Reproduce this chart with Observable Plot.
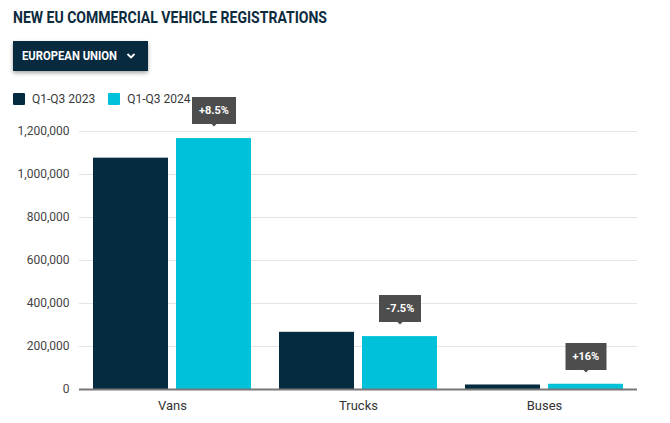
<!DOCTYPE html>
<html><head><meta charset="utf-8">
<script src="https://cdn.jsdelivr.net/npm/d3@7"></script>
<script src="https://cdn.jsdelivr.net/npm/@observablehq/plot@0.6"></script>
<style>
html,body{margin:0;padding:0;background:#fff;width:670px;height:423px;overflow:hidden;font-family:Roboto,"Noto Sans",sans-serif;}
#wrap{position:relative;width:670px;height:423px;}
#title{position:absolute;left:13px;top:7px;font-size:17px;font-weight:700;color:#0d2b3e;white-space:nowrap;transform-origin:0 0;letter-spacing:0px;}
#btn{position:absolute;left:13px;top:41px;width:135px;height:30px;background:#072a3e;box-shadow:0 2px 4px rgba(0,0,0,0.35);color:#fff;font-weight:700;font-size:12px;}
#btn span.t{position:absolute;left:9px;top:8px;white-space:nowrap;transform-origin:0 0;}
#btn svg{position:absolute;left:113px;top:11px;}
#legend{position:absolute;left:13px;top:92px;font-size:12px;color:#3a3a3a;display:flex;align-items:center;}
#legend .sw{width:12px;height:12px;display:inline-block;margin-right:7px;border-radius:1px;}
#legend .it{display:flex;align-items:center;margin-right:13px;}
#chart{position:absolute;left:0;top:85px;}
.tipmark text{fill:#fff !important;font-weight:700;}
</style></head>
<body><div id="wrap">
<div id="title">NEW EU COMMERCIAL VEHICLE REGISTRATIONS</div>
<div id="btn"><span class="t">EUROPEAN UNION</span><svg width="10" height="8" viewBox="0 0 10 8"><path d="M1.5 2 L5 5.5 L8.5 2" fill="none" stroke="#fff" stroke-width="1.8"/></svg></div>
<div id="legend"></div>
<div id="chart"></div>
</div>
<script>
const categories = ["Vans", "Trucks", "Buses"];
const seriesNames = ["Q1-Q3 2023", "Q1-Q3 2024"];
const values2023 = [1076000, 266000, 21000];
const values2024 = [1167000, 246000, 24400];
const changes = ["+8.5%", "-7.5%", "+16%"];
const yTicks = [0, 200000, 400000, 600000, 800000, 1000000, 1200000];
const colors = ["#052b40", "#00c1da"];

const data = [];
categories.forEach((c, i) => {
  data.push({category: c, series: seriesNames[0], value: values2023[i]});
  data.push({category: c, series: seriesNames[1], value: values2024[i], change: changes[i]});
});
const tipData = data.filter(d => d.series === seriesNames[1]);

// legend
const leg = document.getElementById("legend");
seriesNames.forEach((s, i) => {
  const it = document.createElement("div"); it.className = "it";
  const sw = document.createElement("span"); sw.className = "sw"; sw.style.background = colors[i];
  it.appendChild(sw); it.appendChild(document.createTextNode(s));
  leg.appendChild(it);
});

const chart = Plot.plot({
  width: 670,
  height: 338,
  marginLeft: 78,
  marginRight: 33,
  marginTop: 46,
  marginBottom: 34,
  style: {fontFamily: "Roboto, sans-serif", fontSize: "12px", color: "#444"},
  fx: {domain: categories, padding: 0, label: null},
  x: {domain: seriesNames, paddingInner: 0.095, paddingOuter: 0.155, axis: null},
  y: {domain: [0, 1200000], label: null},
  color: {domain: seriesNames, range: colors},
  marks: [
    Plot.gridY(yTicks, {stroke: "#e4e4e4", strokeOpacity: 1}),
    Plot.axisY(yTicks, {tickFormat: d3.format(","), tickSize: 0, tickPadding: 10, label: null, fill: "#444"}),
    Plot.barY(data, {fx: "category", x: "series", y: "value", fill: "series"}),
    Plot.ruleY([0], {stroke: "#777", strokeWidth: 2}),
    Plot.axisFx({anchor: "bottom", tickSize: 0, tickPadding: 11, label: null, fontSize: 13, fill: "#333"}),
    Plot.tip(tipData, {fx: "category", x: "series", y: "value", title: "change", anchor: "bottom", dy: -12,
      fill: "#4d4d4d", stroke: "none", pointerSize: 5, textPadding: 7, fontSize: 11, pathFilter: "none", className: "tipmark"})
  ]
});
document.getElementById("chart").appendChild(chart);

// fit condensed-looking header text
const t = document.getElementById("title");
const w = t.getBoundingClientRect().width;
t.style.transform = `scaleX(${314 / w})`;
const bt = document.querySelector("#btn span.t");
const bw = bt.getBoundingClientRect().width;
bt.style.transform = `scaleX(${95 / bw})`;
</script>
</body></html>
